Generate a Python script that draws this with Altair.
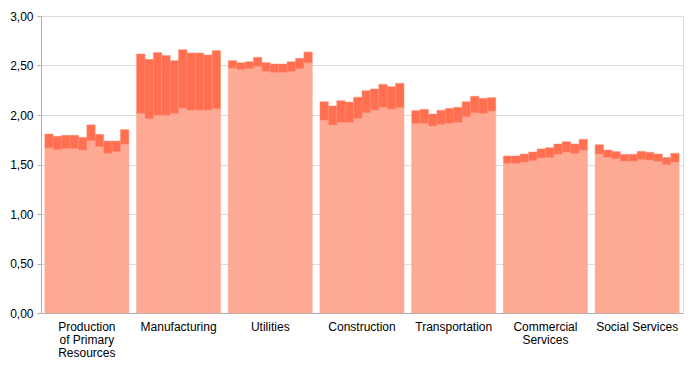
import altair as alt
import pandas as pd

sectors = ["Production of Primary Resources", "Manufacturing", "Utilities",
           "Construction", "Transportation", "Commercial Services", "Social Services"]
years = [2000, 2001, 2002, 2003, 2004, 2005, 2006, 2007, 2008, 2009]

base_values = {
    "Production of Primary Resources": [1.667, 1.650, 1.663, 1.663, 1.646, 1.740, 1.680, 1.613, 1.630, 1.707],
    "Manufacturing": [2.017, 1.963, 1.997, 1.997, 2.017, 2.070, 2.050, 2.050, 2.050, 2.064],
    "Utilities": [2.475, 2.461, 2.468, 2.492, 2.441, 2.431, 2.431, 2.441, 2.468, 2.528],
    "Construction": [1.949, 1.899, 1.926, 1.926, 1.966, 2.023, 2.050, 2.080, 2.060, 2.074],
    "Transportation": [1.916, 1.916, 1.889, 1.906, 1.916, 1.926, 1.983, 2.023, 2.017, 2.040],
    "Commercial Services": [1.512, 1.512, 1.525, 1.539, 1.566, 1.572, 1.606, 1.626, 1.613, 1.646],
    "Social Services": [1.606, 1.572, 1.559, 1.535, 1.535, 1.552, 1.545, 1.532, 1.498, 1.525],
}
total_values = {
    "Production of Primary Resources": [1.808, 1.785, 1.795, 1.795, 1.774, 1.900, 1.805, 1.737, 1.737, 1.852],
    "Manufacturing": [2.616, 2.562, 2.630, 2.600, 2.549, 2.660, 2.626, 2.626, 2.606, 2.650],
    "Utilities": [2.549, 2.528, 2.538, 2.583, 2.528, 2.515, 2.515, 2.538, 2.573, 2.636],
    "Construction": [2.134, 2.091, 2.144, 2.131, 2.179, 2.245, 2.263, 2.310, 2.286, 2.320],
    "Transportation": [2.044, 2.057, 2.010, 2.047, 2.067, 2.078, 2.134, 2.189, 2.168, 2.175],
    "Commercial Services": [1.586, 1.586, 1.606, 1.626, 1.657, 1.670, 1.707, 1.730, 1.707, 1.754],
    "Social Services": [1.700, 1.646, 1.630, 1.603, 1.603, 1.633, 1.623, 1.606, 1.572, 1.613],
}

y_ticks = [0, 0.25, 0.5, 0.75, 1.0, 1.25, 1.5, 1.75, 2.0, 2.25, 2.5, 2.75, 3.0]

rows = []
for s in sectors:
    for i, yr in enumerate(years):
        rows.append({"sector": s, "year": yr, "base": base_values[s][i], "total": total_values[s][i]})
df = pd.DataFrame(rows)

FONT = "Liberation Sans"
LIGHT = "#FDA994"
DARK = "#FF6F50"

label_expr = ("datum.label == 'Production of Primary Resources' ? ['Production', 'of Primary', 'Resources'] : "
              "datum.label == 'Commercial Services' ? ['Commercial', 'Services'] : datum.label")

x_enc = alt.X("sector:N", sort=sectors, title=None,
              scale=alt.Scale(paddingInner=0.084, paddingOuter=0.042),
              axis=alt.Axis(labelAngle=0, labelExpr=label_expr, labelFont=FONT, labelFontSize=12,
                            labelColor="#000000", labelLineHeight=13, labelPadding=8,
                            ticks=False, domainColor="#B0B0B0", grid=False, labelLimit=200))
xo = alt.XOffset("year:O", sort=years, scale=alt.Scale(paddingInner=0, paddingOuter=0))

y_scale = alt.Scale(domain=[0, 3], nice=False)
y_axis = alt.Axis(values=y_ticks, labelExpr="replace(format(datum.value, '.2f'), '.', ',')",
                  labelFont=FONT, labelFontSize=12, labelColor="#000000", tickSize=4,
                  tickColor="#B0B0B0", domainColor="#B0B0B0", gridColor="#DCDCDC",
                  labelPadding=4)

base = alt.Chart(df)
light = base.mark_bar(color=LIGHT, stroke=LIGHT, strokeWidth=0.6).encode(
    x=x_enc, xOffset=xo,
    y=alt.Y("base:Q", scale=y_scale, axis=y_axis, title=None),
)
dark = base.mark_bar(color=DARK, stroke="#FF8A70", strokeWidth=0.5).encode(
    x=x_enc, xOffset=xo,
    y=alt.Y("base:Q", scale=y_scale, title=None),
    y2="total:Q",
)

chart = alt.layer(light, dark).properties(
    width=642, height=297,
    autosize=alt.AutoSizeParams(type="none"),
    padding={"left": 33, "top": 8, "right": 9, "bottom": 49},
).configure_view(stroke=None).configure(background="white")

chart.save("out.html", embed_options={"renderer": "svg", "actions": False})
